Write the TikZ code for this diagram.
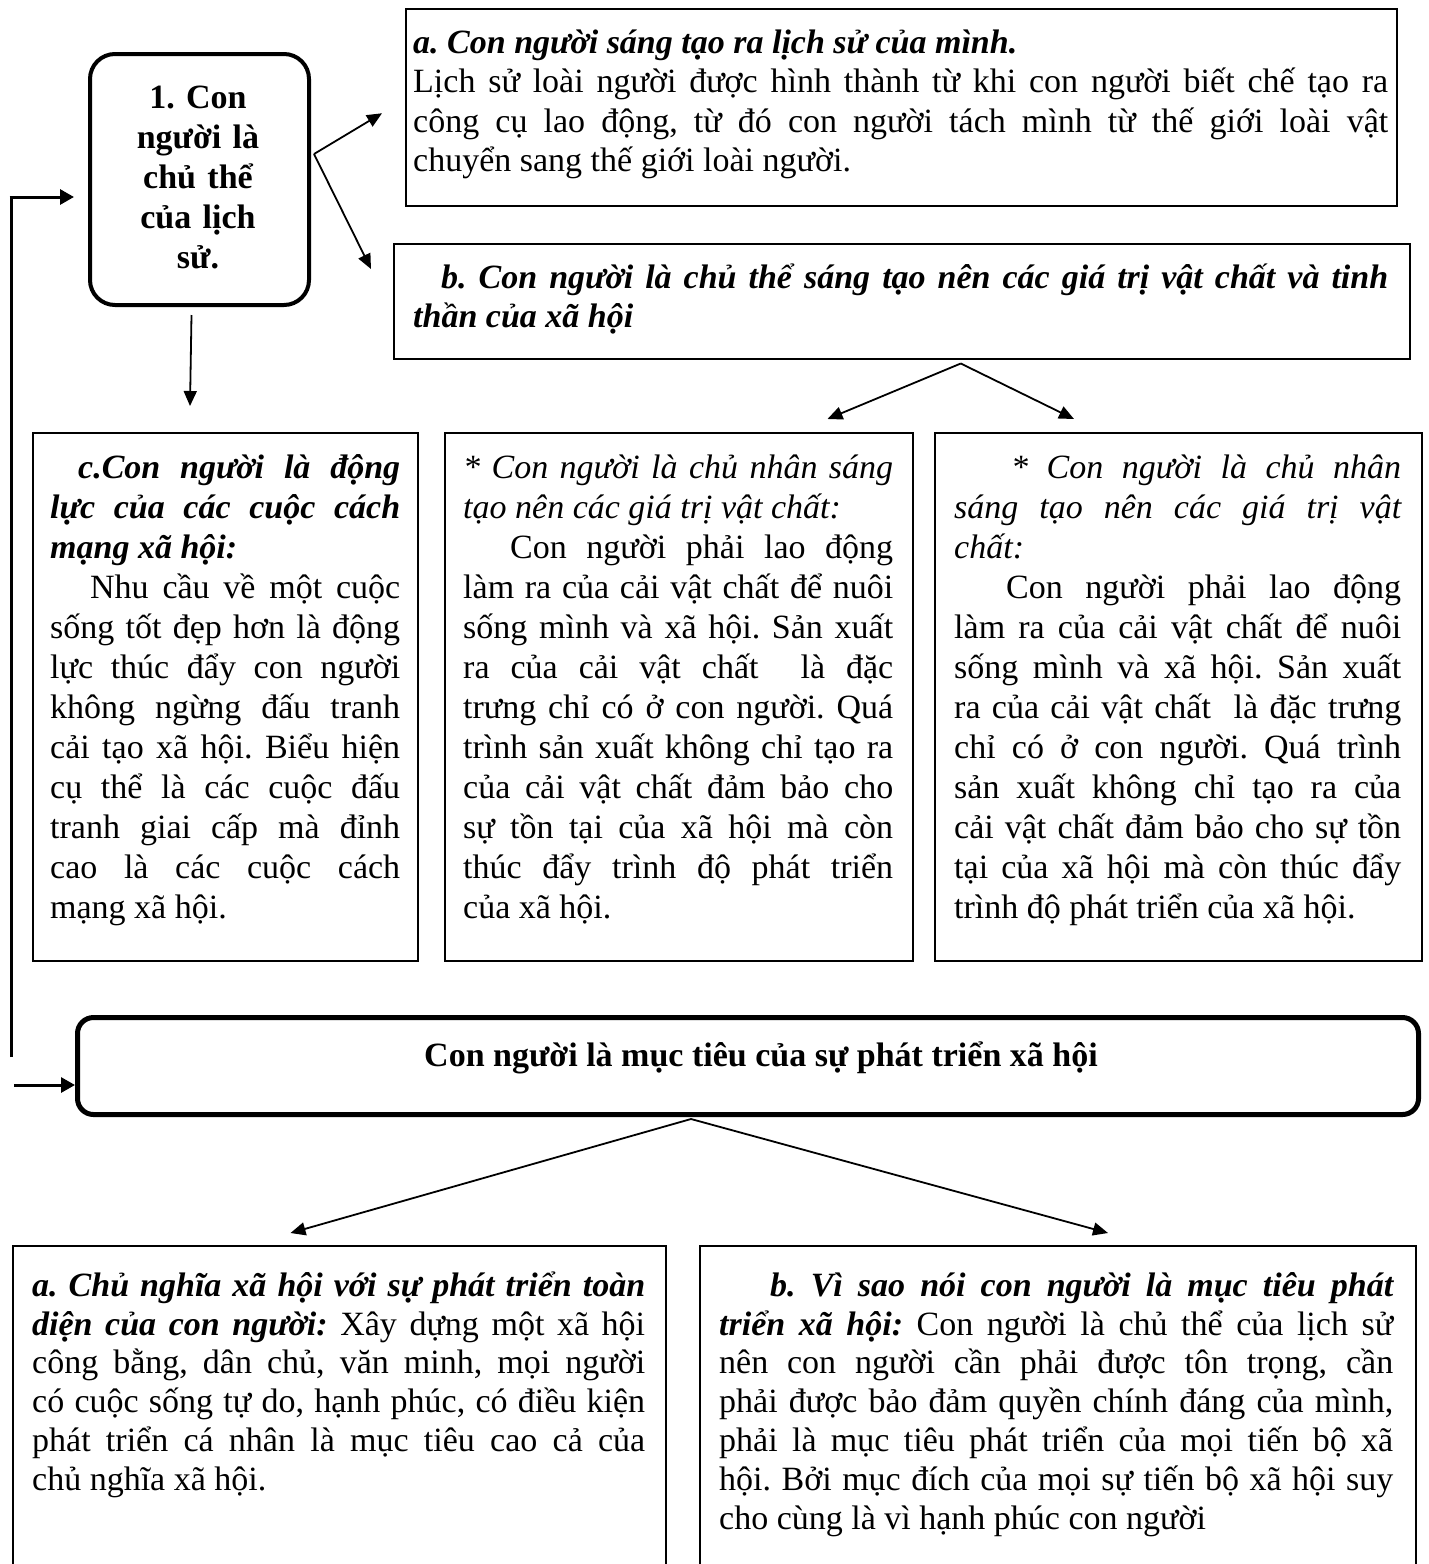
\documentclass[tikz,border=0pt]{standalone}
\usepackage{fontspec}
\setmainfont{Liberation Serif}
\usetikzlibrary{arrows.meta,calc}
\frenchspacing
\newcommand\bodyfont{\fontsize{34}{39.5}\selectfont\lineskiplimit=-100pt\relax\frenchspacing}
\newcommand\rowfont{\fontsize{34}{40}\selectfont\lineskiplimit=-100pt\relax\frenchspacing}
\newcommand\lowfont{\fontsize{34}{38.8}\selectfont\lineskiplimit=-100pt\relax\frenchspacing}
\newcommand\fst{\rule{0pt}{34pt}}
\tikzset{
  frame/.style={draw=black, line width=1.5pt, anchor=north west, inner sep=0pt},
  rframe/.style={draw=black, anchor=north west, inner sep=0pt},
  txt/.style={anchor=north west, inner sep=0pt, text width=#1, align=justify, font=\bodyfont},
  txtrow/.style={anchor=north west, inner sep=0pt, text width=#1, align=justify, font=\rowfont},
  txtlow/.style={anchor=north west, inner sep=0pt, text width=#1, align=justify, font=\lowfont},
  arr/.style={line width=1.8pt, -{Triangle[length=15pt,width=13pt]}},
  fb/.style={line width=3pt},
  fbarr/.style={line width=3pt, -{Triangle[length=14pt,width=15pt]}}
}
\begin{document}
\begin{tikzpicture}[x=1pt,y=-1pt]
\useasboundingbox (0,0) rectangle (1429,1564);

% ---------- boxes ----------
\node[rframe, line width=4pt, rounded corners=25pt, minimum width=219pt, minimum height=251pt] (one) at (88,52) {};
\node[frame, minimum width=991pt, minimum height=197pt] (boxa) at (405,8) {};
\node[frame, minimum width=1016pt, minimum height=115pt] (boxb) at (393,243) {};
\node[frame, minimum width=385pt, minimum height=528pt] (boxc) at (32,432) {};
\node[frame, minimum width=468pt, minimum height=528pt] (boxm) at (444,432) {};
\node[frame, minimum width=487pt, minimum height=528pt] (boxr) at (934,432) {};
\node[rframe, line width=5pt, rounded corners=16pt, minimum width=1341pt, minimum height=97pt] (goal) at (75,1015) {};
\node[frame, minimum width=653pt, minimum height=340pt] (boxbl) at (12,1245) {};
\node[frame, minimum width=716pt, minimum height=340pt] (boxbr) at (699,1245) {};

% ---------- texts ----------
\node[anchor=north, inner sep=0pt, text width=215pt, align=center, font=\rowfont\bfseries] (tone) at (198,74)
  {\fst 1. Con\\người là\\chủ thể\\của lịch\\sử.};

\node[txt=975pt] (ta) at (413,19) {\fst{\bfseries\itshape a. Con người sáng tạo ra lịch sử của mình.}\par
Lịch sử loài người được hình thành từ khi con người biết chế tạo ra\linebreak
công cụ lao động, từ đó con người tách mình từ thế giới loài vật\linebreak
chuyển sang thế giới loài người.};

\node[txt=975pt, font=\bodyfont\bfseries\itshape] (tb) at (413,254) {\fst\hspace*{28pt}b. Con người là chủ thể sáng tạo nên các giá trị vật chất và tinh\linebreak
thần của xã hội};

\node[txtrow=350pt] (tc) at (50,444) {\fst{\bfseries\itshape\hspace*{28pt}c.Con người là động\linebreak
lực của các cuộc cách\linebreak
mạng xã hội:}\par
\hspace*{40pt}Nhu cầu về một cuộc\linebreak
sống tốt đẹp hơn là động\linebreak
lực thúc đẩy con người\linebreak
không ngừng đấu tranh\linebreak
cải tạo xã hội. Biểu hiện\linebreak
cụ thể là các cuộc đấu\linebreak
tranh giai cấp mà đỉnh\linebreak
cao là các cuộc cách\linebreak
mạng xã hội.};

\node[txtrow=430pt] (tm) at (463,444) {\fst{\itshape * Con người là chủ nhân sáng\linebreak
tạo nên các giá trị vật chất:}\par
\hspace*{47pt}Con người phải lao động\linebreak
làm ra của cải vật chất để nuôi\linebreak
sống mình và xã hội. Sản xuất\linebreak
ra của cải vật chất \ là đặc\linebreak
trưng chỉ có ở con người. Quá\linebreak
trình sản xuất không chỉ tạo ra\linebreak
của cải vật chất đảm bảo cho\linebreak
sự tồn tại của xã hội mà còn\linebreak
thúc đẩy trình độ phát triển\linebreak
của xã hội.};

\node[txtrow=447pt] (tr) at (954,444) {\fst{\itshape\hspace*{57pt}* Con người là chủ nhân\linebreak
sáng tạo nên các giá trị vật\linebreak
chất:}\par
\hspace*{52pt}Con người phải lao động\linebreak
làm ra của cải vật chất để nuôi\linebreak
sống mình và xã hội. Sản xuất\linebreak
ra của cải vật chất \ là đặc trưng\linebreak
chỉ có ở con người. Quá trình\linebreak
sản xuất không chỉ tạo ra của\linebreak
cải vật chất đảm bảo cho sự tồn\linebreak
tại của xã hội mà còn thúc đẩy\linebreak
trình độ phát triển của xã hội.};

\node[anchor=base, inner sep=0pt, font=\bodyfont\bfseries] (tgoal) at (761,1066)
  {Con người là mục tiêu của sự phát triển xã hội};

\node[txtlow=613pt] (tbl) at (32,1262) {\fst{\bfseries\itshape a. Chủ nghĩa xã hội với sự phát triển toàn\linebreak
diện của con người:} Xây dựng một xã hội\linebreak
công bằng, dân chủ, văn minh, mọi người\linebreak
có cuộc sống tự do, hạnh phúc, có điều kiện\linebreak
phát triển cá nhân là mục tiêu cao cả của\linebreak
chủ nghĩa xã hội.};

\node[txtlow=674pt] (tbr) at (719,1262) {\fst{\bfseries\itshape\hspace*{51pt}b. Vì sao nói con người là mục tiêu phát\linebreak
triển xã hội:} Con người là chủ thể của lịch sử\linebreak
nên con người cần phải được tôn trọng, cần\linebreak
phải được bảo đảm quyền chính đáng của mình,\linebreak
phải là mục tiêu phát triển của mọi tiến bộ xã\linebreak
hội. Bởi mục đích của mọi sự tiến bộ xã hội suy\linebreak
cho cùng là vì hạnh phúc con người};

% ---------- connectors ----------
\coordinate (src1) at ($(one.north east)+(3,102)$);
\draw[arr] (src1) -- ($(boxa.west)+(-23,6)$);
\draw[arr] (src1) -- ($(boxb.north west)+(-22,26)$);
\draw[arr] ($(one.south)+(-8,8)$) -- ($(boxc.north west)+(158,-26)$);

\coordinate (src2) at ($(boxb.south)+(59,4)$);
\draw[arr] (src2) -- ($(boxm.north east)+(-86,-13)$);
\draw[arr] (src2) -- ($(boxr.north west)+(140,-13)$);

\coordinate (src3) at ($(goal.south)+(-57,2)$);
\draw[arr] (src3) -- ($(boxbl.north east)+(-376,-12)$);
\draw[arr] (src3) -- ($(boxbr.north west)+(409,-12)$);

\coordinate (fbbot) at (11,1057);
\coordinate (fbtop) at (11,197);
\draw[fb] (fbbot) -- (fbtop);
\draw[fbarr] ([xshift=-1.5pt]fbtop) -- ($(one.west |- fbtop)+(-14,0)$);
\coordinate (fbin) at (14,1085);
\draw[fbarr] (fbin) -- (goal.west |- fbin);
\end{tikzpicture}
\end{document}
